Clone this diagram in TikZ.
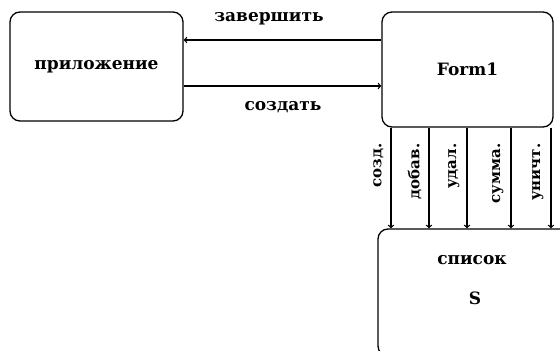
\documentclass[tikz,border=0pt]{standalone}
\usepackage{fontspec}
\setmainfont{DejaVu Serif}
\usetikzlibrary{positioning}

\begin{document}
\begin{tikzpicture}[x=1pt,y=-1pt,line width=1.3pt,
    box/.style={draw,rounded corners=10pt,inner sep=0pt},
    lbl/.style={font=\bfseries\fontsize{17}{19}\selectfont},
    vlbl/.style={font=\bfseries\fontsize{15}{17}\selectfont,rotate=90,anchor=south east,inner sep=0pt}]
    \useasboundingbox (0,0) rectangle (560,351);
    \clip (0,0) rectangle (560,351);
    % boxes
    \node[box,minimum width=173pt,minimum height=109pt] (app) at (96.5,66.5) {};
    \node[box,minimum width=171pt,minimum height=115pt] (form) at (467.5,69.5) {};
    \node[box,minimum width=222pt,minimum height=127pt] (list) at (489,292.5) {};
    \node[lbl] (appname) at (app.center) {приложение};
    \node[lbl] (formname) at (form.center) {Form1};
    \node[lbl] (listname) at (472,260) {список};
    \node[lbl] (listvar) at (475,298) {S};
    % app <-> Form1
    \draw[->] (form.west |- 0,40) -- (app.east |- 0,40);
    \draw[->] (app.east |- 0,86) -- (form.west |- 0,86);
    \node[lbl] (quit) at (269,19) {завершить};
    \node[lbl] (make) at (283,107) {создать};
    % Form1 -> list
    \foreach \x/\txt in {391/созд., 429/добав., 467/удал., 511/сумма., 551/уничт.}{
        \draw[->] (form.south -| \x,0) -- (list.north -| \x,0);
        \node[vlbl] at (\x-7,143) {\txt};
    }
\end{tikzpicture}
\end{document}
